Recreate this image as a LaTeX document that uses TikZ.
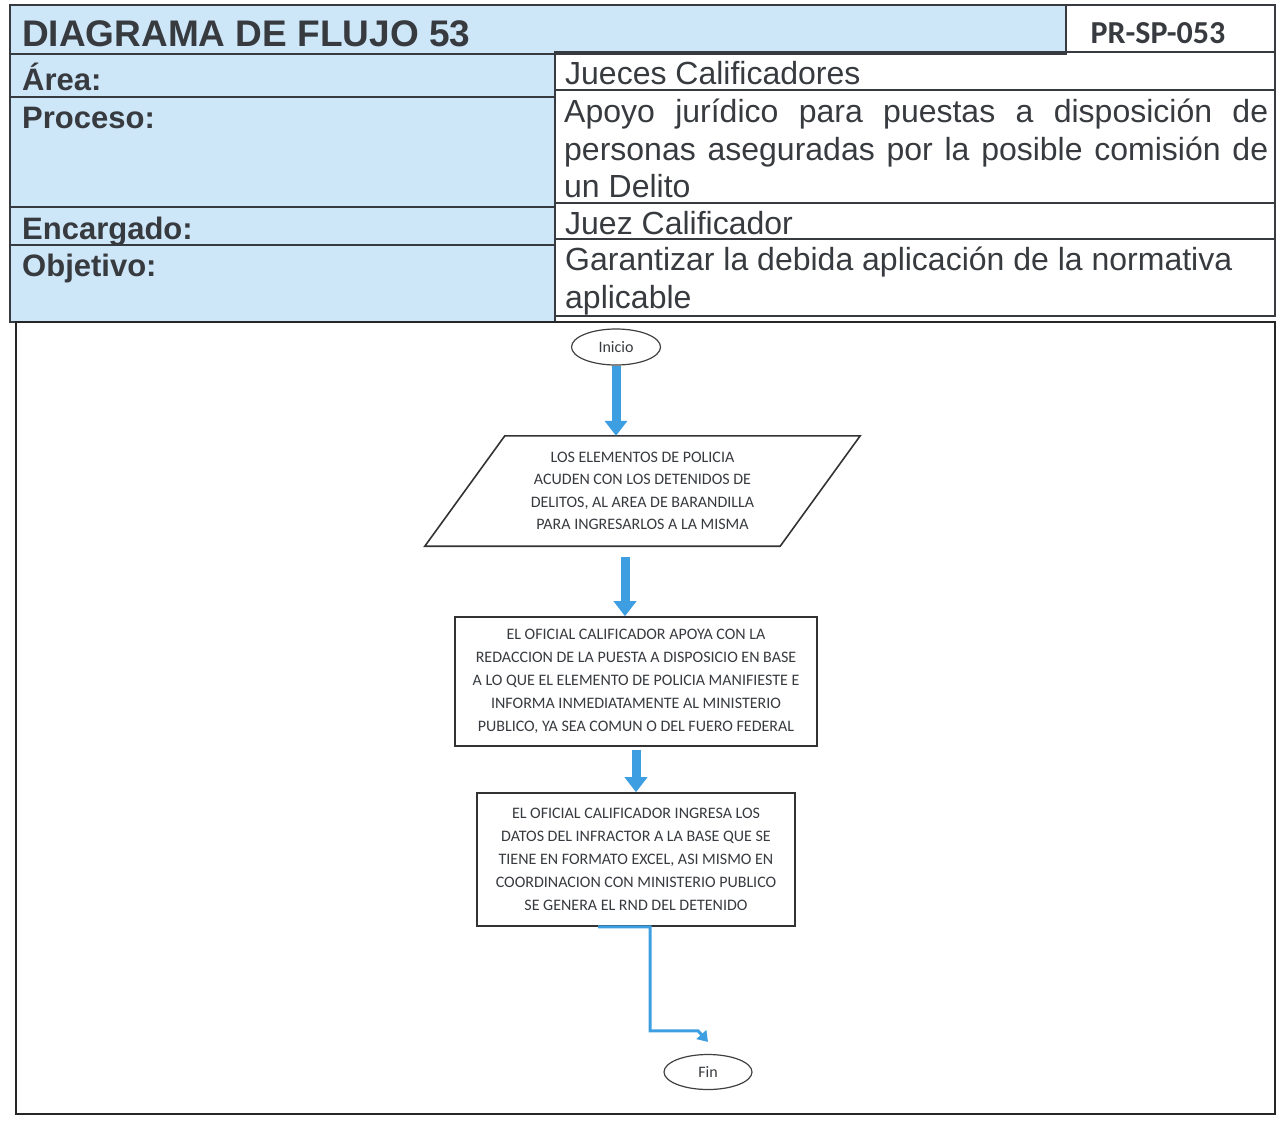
\documentclass[tikz,border=0pt]{standalone}
\usepackage{fontspec}
\setmainfont{Liberation Sans}
\newfontfamily\calfont{Carlito}
\usetikzlibrary{arrows.meta,positioning,shapes.geometric}

\definecolor{headblue}{RGB}{205,230,248}
\definecolor{flowblue}{RGB}{62,158,226}
\definecolor{inkgray}{RGB}{55,58,62}

\begin{document}
\begin{tikzpicture}[x=1pt, y=-1pt,
    cell/.style={draw=inkgray, line width=1.5pt},
    lbl/.style={anchor=base west, inner sep=0pt, text=inkgray, font=\fontsize{31}{37}\selectfont\bfseries},
    val/.style={anchor=base west, inner sep=0pt, text=inkgray, font=\fontsize{32}{37.5}\selectfont},
    term/.style={ellipse, draw=black!75, line width=1.2pt, minimum width=89pt, minimum height=36pt, inner sep=0pt, text=inkgray, font=\calfont\fontsize{16}{19}\selectfont},
    actbox/.style={rectangle, draw=black!80, line width=1.6pt, align=center, inner sep=0pt, text=inkgray, font=\calfont\fontsize{16}{23}\selectfont},
    iobox/.style={rectangle, align=center, inner sep=0pt, minimum width=355pt, minimum height=110pt, text=inkgray, font=\calfont\fontsize{16}{22.5}\selectfont},
    flow/.style={draw=flowblue, line width=9pt, -{Triangle[width=22pt,length=15pt]}},
    link/.style={draw=flowblue, line width=3pt, -{Triangle[width=13pt,length=10pt]}}
]
    \useasboundingbox (0,0) rectangle (1277,1120);

    % Header table
    \draw[cell, fill=headblue] (10,5) rectangle (1066,54);
    \draw[cell, fill=white] (1066,5) rectangle (1275,52);
    \draw[cell, fill=headblue] (10,54) rectangle (555,97);
    \draw[cell, fill=headblue] (10,97) rectangle (555,207);
    \draw[cell, fill=headblue] (10,207) rectangle (555,245);
    \draw[cell, fill=headblue] (10,245) rectangle (555,322);
    \draw[cell] (555,52) rectangle (1275,90);
    \draw[cell] (555,90) rectangle (1275,203);
    \draw[cell] (555,203) rectangle (1275,239);
    \draw[cell] (555,239) rectangle (1275,316);

    \node[anchor=base west, inner sep=0pt, text=inkgray, font=\fontsize{37}{44}\selectfont\bfseries] (title) at (22,46) {DIAGRAMA DE FLUJO 53};
    \node[anchor=base, inner sep=0pt, text=inkgray, font=\calfont\fontsize{32}{38}\selectfont\bfseries] (code) at (1158,43) {PR-SP-053};

    \node[lbl] (area) at (22,90) {Área:};
    \node[lbl] (proceso) at (22,128) {Proceso:};
    \node[lbl] (encargado) at (22,239) {Encargado:};
    \node[lbl] (objetivo) at (22,276) {Objetivo:};

    \node[val] (areaval) at (565,84) {Jueces Calificadores};
    \node[val] (procval1) at (564,122) {\makebox[704pt][s]{Apoyo jurídico para puestas a disposición de}};
    \node[val] (procval2) at (564,160) {\makebox[704pt][s]{personas aseguradas por la posible comisión de}};
    \node[val] (procval3) at (564,197) {un Delito};
    \node[val] (encval) at (565,234) {Juez Calificador};
    \node[val] (objval1) at (565,270) {Garantizar la debida aplicación de la normativa};
    \node[val] (objval2) at (565,308) {aplicable};

    % Flowchart frame
    \draw[draw=black!85, line width=1.4pt] (16,322) rectangle (1275,1114);

    % Flowchart nodes
    \node[term] (inicio) at (616,347) {Inicio};
    \node[iobox] (io) at (642.5,491) {LOS ELEMENTOS DE POLICIA\\ACUDEN CON LOS DETENIDOS DE\\DELITOS, AL AREA DE BARANDILLA\\PARA INGRESARLOS A LA MISMA};
    \draw[draw=black!80, line width=1.6pt] ([xshift=40pt]io.north west) -- ([xshift=40pt]io.north east)
        -- ([xshift=-40pt]io.south east) -- ([xshift=-40pt]io.south west) -- cycle;
    \node[actbox, minimum width=362pt, minimum height=129pt] (act1) at (636,681.5) {EL OFICIAL CALIFICADOR APOYA CON LA\\REDACCION DE LA PUESTA A DISPOSICIO EN BASE\\A LO QUE EL ELEMENTO DE POLICIA MANIFIESTE E\\INFORMA INMEDIATAMENTE AL MINISTERIO\\PUBLICO, YA SEA COMUN O DEL FUERO FEDERAL};
    \node[actbox, minimum width=318pt, minimum height=133pt] (act2) at (636,859.5) {EL OFICIAL CALIFICADOR INGRESA LOS\\DATOS DEL INFRACTOR A LA BASE QUE SE\\TIENE EN FORMATO EXCEL, ASI MISMO EN\\COORDINACION CON MINISTERIO PUBLICO\\SE GENERA EL RND DEL DETENIDO};
    \node[term, minimum width=88pt, minimum height=35pt] (fin) at (708,1072) {Fin};

    % Connectors
    \draw[flow] (inicio.south) -- (inicio.south |- io.north);
    \draw[flow] ([xshift=-17.5pt,yshift=-11pt]io.south) -- ([xshift=-11pt]act1.north);
    \draw[flow] ([yshift=-3pt]act1.south) -- (act2.north);
    \coordinate (bend) at ([xshift=14pt,yshift=-104pt]act2.south);
    \draw[link] ([xshift=-38pt]act2.south) -- ([xshift=14pt]act2.south) -- (bend)
        -- ++(48,0) -- ([yshift=12pt]fin.north);
\end{tikzpicture}
\end{document}
